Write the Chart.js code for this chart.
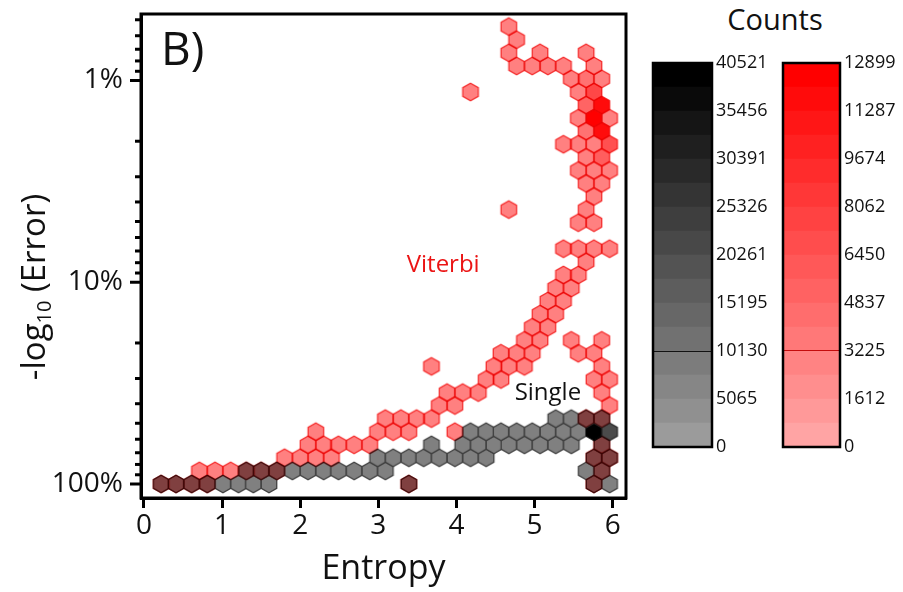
<!DOCTYPE html>
<html>
<head>
<meta charset="utf-8">
<title>Hexbin entropy vs error</title>
<script src="https://cdn.jsdelivr.net/npm/chart.js@4.4.1/dist/chart.umd.min.js"></script>
<style>
  html, body { margin:0; padding:0; background:#fff; }
  body { width:903px; height:592px; position:relative; overflow:hidden; font-family:'Open Sans', sans-serif; }
  canvas { position:absolute; }
  #mainChart { left:0; top:0; }
  #cbSingle { left:640px; top:40px; }
  #cbViterbi { left:770px; top:40px; }
  #countsTitle { position:absolute; left:700px; width:150px; top:1px; text-align:center; font-size:29px; color:#111; line-height:36px; }
</style>
</head>
<body>
<canvas id="mainChart" width="640" height="592"></canvas>
<canvas id="cbSingle" width="130" height="420"></canvas>
<canvas id="cbViterbi" width="133" height="420"></canvas>
<div id="countsTitle">Counts</div>
<script>
// ---------------- DATA ----------------
// x = entropy, y = -log10(error) at hex-bin centres, count = hexes' counts read from colour
const singleX = [
  0.22,0.41,0.61,0.81,1.01,1.21,1.40,1.60,3.39,5.76,5.96,
  1.31,1.50,1.70,1.90,2.10,2.30,2.49,2.69,2.89,3.09,5.66,5.86,
  2.99,3.19,3.39,3.58,3.78,3.98,4.18,4.38,5.76,5.96,
  3.68,4.08,4.28,4.48,4.67,4.87,5.07,5.27,5.47,5.86,
  4.18,4.38,4.57,4.77,4.97,5.17,5.37,5.56,5.76,5.96,
  5.27,5.47,5.66,5.86
];
const singleY = [
  0,0,0,0,0,0,0,0,0,0,0,
  0.065,0.065,0.065,0.065,0.065,0.065,0.065,0.065,0.065,0.065,0.065,0.065,
  0.130,0.130,0.130,0.130,0.130,0.130,0.130,0.130,0.130,0.130,
  0.194,0.194,0.194,0.194,0.194,0.194,0.194,0.194,0.194,0.194,
  0.259,0.259,0.259,0.259,0.259,0.259,0.259,0.259,0.259,0.259,
  0.324,0.324,0.324,0.324
];
const singleCount = [
  9000,9000,9000,9000,9000,9000,9000,9000,9000,9000,9000,
  9000,9000,9000,9000,9000,9000,9000,9000,9000,9000,9000,9000,
  9000,9000,9000,9000,9000,9000,9000,9000,9000,9000,
  9000,9000,9000,9000,9000,9000,9000,9000,9000,9000,
  9000,9000,9000,9000,9000,9000,9000,9000,40521,22000,
  9000,9000,9000,9000
];

const viterbiX = [
  0.22,0.41,0.61,0.81,3.39,5.76,
  0.71,0.91,1.11,1.31,1.50,1.70,5.86,
  1.80,2.00,2.20,2.40,5.76,5.96,
  2.10,2.30,2.49,2.69,2.89,5.86,
  2.20,2.99,3.19,3.39,3.98,
  3.09,3.29,3.49,3.68,5.66,5.86,
  3.78,3.98,5.96,
  3.88,4.08,4.28,5.86,
  4.38,4.57,5.76,5.96,
  3.68,4.48,4.67,4.87,5.86,
  4.57,4.77,4.97,5.56,5.76,
  4.87,5.07,5.47,5.86,
  4.97,5.17,
  5.07,5.27,
  5.17,5.37,
  5.27,5.47,
  5.37,5.56,
  5.66,
  5.37,5.56,5.76,5.96,
  5.56,5.76,
  4.67,5.66,
  5.76,
  5.66,5.86,
  5.56,5.76,5.96,
  5.66,5.86,
  5.37,5.56,5.76,5.96,
  5.66,5.86,
  5.56,5.76,5.96,
  5.66,5.86,
  4.18,5.56,5.76,
  5.47,5.66,5.86,
  4.77,4.97,5.17,5.37,5.76,
  4.67,5.07,5.66,
  4.77,
  4.67
];
const viterbiY = [
  0,0,0,0,0,0,
  0.065,0.065,0.065,0.065,0.065,0.065,0.065,
  0.130,0.130,0.130,0.130,0.130,0.130,
  0.194,0.194,0.194,0.194,0.194,0.194,
  0.259,0.259,0.259,0.259,0.259,
  0.324,0.324,0.324,0.324,0.324,0.324,
  0.389,0.389,0.389,
  0.453,0.453,0.453,0.453,
  0.518,0.518,0.518,0.518,
  0.583,0.583,0.583,0.583,0.583,
  0.648,0.648,0.648,0.648,0.648,
  0.712,0.712,0.712,0.712,
  0.777,0.777,
  0.842,0.842,
  0.907,0.907,
  0.971,0.971,
  1.036,1.036,
  1.101,
  1.166,1.166,1.166,1.166,
  1.295,1.295,
  1.360,1.360,
  1.425,
  1.490,1.490,
  1.554,1.554,1.554,
  1.619,1.619,
  1.684,1.684,1.684,1.684,
  1.749,1.749,
  1.813,1.813,1.813,
  1.878,1.878,
  1.943,1.943,1.943,
  2.008,2.008,2.008,
  2.072,2.072,2.072,2.072,2.072,
  2.137,2.137,2.137,
  2.202,
  2.267
];
const viterbiCount = [
  3500,3500,3500,3500,3500,3500,
  3500,3500,3500,3500,3500,3500,3500,
  3500,3500,3500,3500,3500,3500,
  3500,3500,3500,3500,3500,3500,
  3500,3500,3500,3500,3500,
  3500,3500,3500,3500,3500,3500,
  3500,3500,3500,
  3500,3500,3500,3500,
  3500,3500,3500,3500,
  3500,3500,3500,3500,3500,
  3500,3500,3500,3500,3500,
  3500,3500,3500,3500,
  3500,3500,
  3500,3500,
  3500,3500,
  3500,3500,
  3500,3500,
  3500,
  3500,3500,3500,3500,
  3500,3500,
  3500,3500,
  3500,
  3500,3500,
  3500,3500,3500,
  3500,6000,
  3500,3500,3500,7000,
  4500,12000,
  3500,12899,3500,
  5500,12100,
  3500,3500,7700,
  3500,4500,3500,
  3500,3500,3500,3500,3500,
  3500,3500,3500,
  3500,
  3500
];

const xTickValues = [0,1,2,3,4,5,6];
const xTickLabels = ['0','1','2','3','4','5','6'];
const yTickValues = [0,1,2];            // -log10(error)
const yTickLabels = ['100%','10%','1%'];
const yMinorPercents = [90,80,70,60,50,40,30,20,9,8,7,6,5,4,3,2,0.9,0.8,0.7,0.6,0.5];
const singleBarTicks = [0,5065,10130,15195,20261,25326,30391,35456,40521];
const viterbiBarTicks = [0,1612,3225,4837,6450,8062,9674,11287,12899];

// ---------------- STYLE ----------------
const FONT = "'Open Sans', sans-serif";
Chart.defaults.font.family = FONT;
const binWidth = 0.198;   // hex spacing along entropy
const binRow = 0.06476;   // hex row spacing in decades
const singleMax = 40521, viterbiMax = 12899;

function greyLevel(v, max){ return 165 * (1 - Math.min(v, max) / max); }
function redLevel(v, max){ return 175 * (1 - Math.min(v, max) / max); }

const hexCache = {};
function hexImage(chart, fill, stroke) {
  const xs = chart.scales.x, ys = chart.scales.y;
  const hw = (xs.getPixelForValue(binWidth) - xs.getPixelForValue(0)) / 2;
  const hh = (ys.getPixelForValue(0) - ys.getPixelForValue(binRow)) * 2 / 3;
  const key = fill + '|' + stroke + '|' + hw.toFixed(2) + '|' + hh.toFixed(2);
  if (hexCache[key]) return hexCache[key];
  const c = document.createElement('canvas');
  c.width = Math.ceil(2 * hw + 4); c.height = Math.ceil(2 * hh + 4);
  const g = c.getContext('2d');
  const cx = c.width / 2, cy = c.height / 2;
  g.beginPath();
  g.moveTo(cx, cy - hh);
  g.lineTo(cx + hw, cy - hh / 2);
  g.lineTo(cx + hw, cy + hh / 2);
  g.lineTo(cx, cy + hh);
  g.lineTo(cx - hw, cy + hh / 2);
  g.lineTo(cx - hw, cy - hh / 2);
  g.closePath();
  g.fillStyle = fill; g.fill();
  g.lineWidth = 1.3; g.strokeStyle = stroke; g.stroke();
  hexCache[key] = c;
  return c;
}
function singleStyle(ctx) {
  const v = singleCount[ctx.dataIndex];
  const g = Math.round(greyLevel(v, singleMax));
  const s = Math.round(g * 0.5);
  return hexImage(ctx.chart, `rgb(${g},${g},${g})`, `rgb(${s},${s},${s})`);
}
function viterbiStyle(ctx) {
  const v = viterbiCount[ctx.dataIndex];
  const r = Math.round(redLevel(v, viterbiMax));
  const s = Math.round(r * 0.35);
  return hexImage(ctx.chart, `rgb(255,${r},${r})`, `rgb(245,${s},${s})`);
}

const annotations = [
  {text:'Viterbi', x:3.83, y:1.087, color:'rgb(235,20,20)', size:24},
  {text:'Single',  x:5.17, y:0.452, color:'#111', size:24}
];

const mainPlugin = {
  id: 'mainPlugin',
  beforeDatasetDraw(chart, args) {
    if (chart.data.datasets[args.index].multiply) {
      chart.ctx.save();
      chart.ctx.globalCompositeOperation = 'multiply';
    }
  },
  afterDatasetDraw(chart, args) {
    if (chart.data.datasets[args.index].multiply) chart.ctx.restore();
  },
  afterDraw(chart) {
    const {ctx, chartArea: a, scales: {x, y}} = chart;
    ctx.save();
    // frame
    ctx.strokeStyle = '#000'; ctx.lineWidth = 3;
    ctx.strokeRect(a.left, a.top, a.right - a.left, a.bottom - a.top);
    // y ticks (major + minor)
    ctx.lineCap = 'butt';
    yTickValues.forEach(v => {
      const py = y.getPixelForValue(v);
      ctx.beginPath(); ctx.moveTo(a.left, py); ctx.lineTo(a.left - 11, py); ctx.stroke();
    });
    yMinorPercents.forEach(p => {
      const py = y.getPixelForValue(2 - Math.log10(p));
      ctx.beginPath(); ctx.moveTo(a.left, py); ctx.lineTo(a.left - 6, py); ctx.stroke();
    });
    // panel label
    ctx.fillStyle = '#111';
    ctx.font = `46px ${FONT}`;
    ctx.textBaseline = 'alphabetic'; ctx.textAlign = 'left';
    ctx.fillText('B)', a.left + 20, a.top + 51);
    // annotations
    ctx.textAlign = 'center'; ctx.textBaseline = 'middle';
    annotations.forEach(t => {
      ctx.fillStyle = t.color; ctx.font = `${t.size}px ${FONT}`;
      ctx.fillText(t.text, x.getPixelForValue(t.x), y.getPixelForValue(t.y));
    });
    // y axis title with subscript
    ctx.translate(45, 287);
    ctx.rotate(-Math.PI / 2);
    ctx.fillStyle = '#111'; ctx.textAlign = 'left'; ctx.textBaseline = 'alphabetic';
    const big = `33px ${FONT}`, small = `20px ${FONT}`;
    ctx.font = big; const w1 = ctx.measureText('-log').width; const w3 = ctx.measureText(' (Error)').width;
    ctx.font = small; const w2 = ctx.measureText('10').width;
    const x0 = -(w1 + w2 + w3) / 2;
    ctx.font = big; ctx.fillText('-log', x0, 0);
    ctx.font = small; ctx.fillText('10', x0 + w1, 6);
    ctx.font = big; ctx.fillText(' (Error)', x0 + w1 + w2, 0);
    ctx.restore();
  }
};

new Chart(document.getElementById('mainChart'), {
  type: 'scatter',
  data: {
    datasets: [
      { label:'Single', order: 2, data: singleX.map((v,i)=>({x:v, y:singleY[i]})),
        pointStyle: singleStyle, pointRadius: 5 },
      { label:'Viterbi', order: 1, multiply:true, data: viterbiX.map((v,i)=>({x:v, y:viterbiY[i]})),
        pointStyle: viterbiStyle, pointRadius: 5 }
    ]
  },
  options: {
    responsive: false, animation: false, events: [],
    layout: { padding: { top: 14, right: 14, left: 0, bottom: 0 } },
    plugins: { legend: { display: false }, tooltip: { enabled: false } },
    scales: {
      x: {
        type: 'linear', min: -0.0384, max: 6.170,
        afterBuildTicks: s => { s.ticks = xTickValues.map(v => ({value: v})); },
        afterFit: s => { s.height = 94; s.paddingLeft = 0; s.paddingRight = 0; },
        grid: { drawOnChartArea: false, drawTicks: true, tickLength: 10, tickWidth: 3, tickColor: '#000' },
        border: { display: true, width: 3, color: '#000' },
        ticks: { padding: 1, color: '#111', font: { size: 28 }, callback: (v, i) => xTickLabels[i] },
        title: { display: true, text: 'Entropy', color: '#111', font: { size: 34 }, padding: { top: 0, bottom: 2 } }
      },
      y: {
        type: 'linear', min: -0.0694, max: 2.3296,
        afterBuildTicks: s => { s.ticks = yTickValues.map(v => ({value: v})); },
        afterFit: s => { s.width = 141; s.paddingTop = 0; s.paddingBottom = 0; },
        grid: { drawOnChartArea: false, drawTicks: false },
        border: { display: true, width: 3, color: '#000' },
        ticks: { padding: 18, color: '#111', font: { size: 28 }, callback: (v, i) => yTickLabels[i] }
      }
    }
  },
  plugins: [mainPlugin]
});

// ---------------- COLOUR BARS ----------------
const barFrame = {
  id: 'barFrame',
  afterDraw(chart) {
    const {ctx, chartArea: a} = chart;
    ctx.save(); ctx.strokeStyle = '#000'; ctx.lineWidth = 2.5;
    ctx.strokeRect(a.left, a.top, a.right - a.left, a.bottom - a.top);
    ctx.restore();
  }
};
function makeColorbar(id, max, tickVals, colorOf, lineColor, axisWidth) {
  const bands = 16;
  const datasets = [];
  for (let i = 0; i < bands; i++) {
    datasets.push({ data: [max / bands], backgroundColor: colorOf((i + 1) / bands * max, max),
      borderWidth: 0, barPercentage: 1, categoryPercentage: 1 });
  }
  new Chart(document.getElementById(id), {
    type: 'bar',
    data: { labels: [''], datasets },
    options: {
      responsive: false, animation: false, events: [],
      layout: { padding: { left: 13, top: 23, bottom: 13, right: 0 } },
      plugins: { legend: { display: false }, tooltip: { enabled: false } },
      scales: {
        x: { display: false, stacked: true },
        y: {
          position: 'right', stacked: true, min: 0, max: max,
          afterBuildTicks: s => { s.ticks = tickVals.map(v => ({value: v})); },
          afterFit: s => { s.width = axisWidth; s.paddingTop = 0; s.paddingBottom = 0; },
          grid: { drawTicks: false, z: 1, lineWidth: 1,
                  color: c => (c.index === 2 ? lineColor : 'rgba(0,0,0,0)') },
          border: { display: false },
          ticks: { padding: 4, color: '#111', font: { size: 18 }, callback: (v, i) => String(tickVals[i]) }
        }
      }
    },
    plugins: [barFrame]
  });
}
makeColorbar('cbSingle', singleMax, singleBarTicks,
  (v, m) => { const g = Math.round(greyLevel(v, m)); return `rgb(${g},${g},${g})`; },
  'rgba(0,0,0,0.85)', 58);
makeColorbar('cbViterbi', viterbiMax, viterbiBarTicks,
  (v, m) => { const r = Math.round(redLevel(v, m)); return `rgb(255,${r},${r})`; },
  'rgba(190,0,0,0.9)', 63);
</script>
</body>
</html>
